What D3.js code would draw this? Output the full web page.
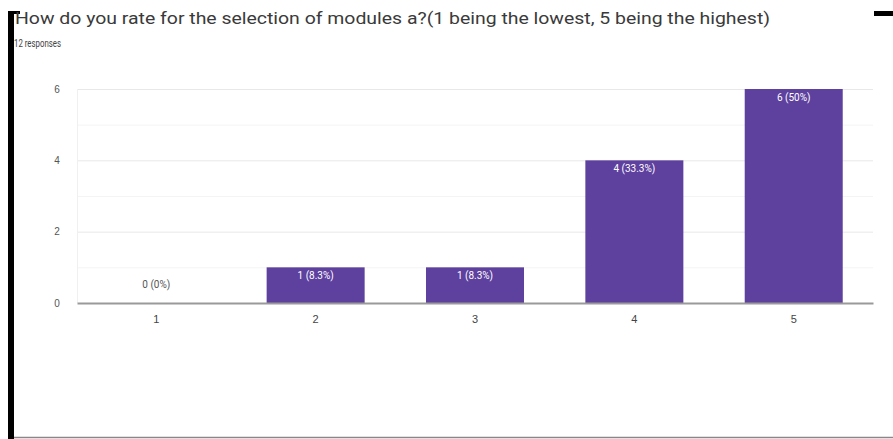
<!DOCTYPE html>
<html>
<head>
<meta charset="utf-8">
<script src="https://cdnjs.cloudflare.com/ajax/libs/d3/7.8.5/d3.min.js"></script>
<style>
body { margin: 0; background: #fff; }
svg { display: block; font-family: Roboto, "Liberation Sans", sans-serif; }
</style>
</head>
<body>
<script>
var title = "How do you rate for the selection of modules a?(1 being the lowest, 5 being the highest)";
var subtitle = "12 responses";
var categories = ["1", "2", "3", "4", "5"];
var counts = [0, 1, 1, 4, 6];
var percents = ["0%", "8.3%", "8.3%", "33.3%", "50%"];
var yTicks = [0, 2, 4, 6];

var W = 893, H = 439;
var margin = {top: 89, right: 20, bottom: 136, left: 77},
    width = 873 - margin.left,
    height = 303 - margin.top;

var svg = d3.select("body").append("svg")
    .attr("width", W)
    .attr("height", H);

// frame bits from the screenshot
svg.append("rect").attr("x", 8).attr("y", 11).attr("width", 6).attr("height", H - 11).attr("fill", "#000");
svg.append("rect").attr("x", 8).attr("y", 11).attr("width", 12).attr("height", 3).attr("fill", "#000");
svg.append("rect").attr("x", 874).attr("y", 11).attr("width", 19).attr("height", 5).attr("fill", "#000");
svg.append("line").attr("x1", 14).attr("x2", W).attr("y1", 437.5).attr("y2", 437.5)
    .attr("stroke", "#888").attr("stroke-width", 1.5);

svg.append("text")
    .attr("x", 15).attr("y", 24)
    .attr("font-family", "'Liberation Sans Narrow', Roboto, sans-serif")
    .attr("font-size", 16)
    .attr("fill", "#3a3a3a")
    .attr("textLength", 755)
    .attr("lengthAdjust", "spacingAndGlyphs")
    .text(title);

svg.append("text")
    .attr("x", 14).attr("y", 47)
    .attr("font-size", 10)
    .attr("fill", "#444")
    .attr("textLength", 47)
    .attr("lengthAdjust", "spacingAndGlyphs")
    .text(subtitle);

var g = svg.append("g")
    .attr("transform", "translate(" + margin.left + "," + margin.top + ")");

var x = d3.scaleBand()
    .domain(categories)
    .range([0, width])
    .paddingInner(0.385)
    .paddingOuter(0.19);

var y = d3.scaleLinear()
    .domain([0, 6])
    .range([height, 0]);

// gridlines, minor ones lighter
g.selectAll(".grid")
    .data(d3.range(1, 7))
    .enter().append("line")
    .attr("class", "grid")
    .attr("x1", 0).attr("x2", width)
    .attr("y1", function(d) { return y(d) + 0.5; })
    .attr("y2", function(d) { return y(d) + 0.5; })
    .attr("stroke", function(d) { return d % 2 == 0 ? "#e8e8e8" : "#f4f4f4"; });

g.append("line")
    .attr("x1", 0.5).attr("x2", 0.5)
    .attr("y1", 0).attr("y2", height)
    .attr("stroke", "#f0f0f0");

var yAxis = d3.axisLeft(y)
    .tickValues(yTicks)
    .tickFormat(d3.format("d"))
    .tickSize(0)
    .tickPadding(18);

g.append("g")
    .attr("class", "y axis")
    .call(yAxis)
    .call(function(s) { s.select(".domain").remove(); })
    .selectAll("text")
    .attr("font-size", 10)
    .attr("fill", "#555")
    .attr("text-anchor", "middle")
    .attr("x", -20);

var data = categories.map(function(c, i) { return {cat: c, n: counts[i], pct: percents[i]}; });

g.selectAll(".bar")
    .data(data)
    .enter().append("rect")
    .attr("class", "bar")
    .attr("x", function(d) { return x(d.cat); })
    .attr("y", function(d) { return y(d.n); })
    .attr("width", x.bandwidth())
    .attr("height", function(d) { return y(0) - y(d.n); })
    .attr("fill", "#5e409e");

g.selectAll(".lbl")
    .data(data)
    .enter().append("text")
    .attr("class", "lbl")
    .attr("x", function(d) { return x(d.cat) + x.bandwidth() / 2; })
    .attr("y", function(d) { return d.n > 0 ? y(d.n) + 12 : y(0) - 15; })
    .attr("text-anchor", "middle")
    .attr("font-size", 10)
    .attr("fill", function(d) { return d.n > 0 ? "#fff" : "#555"; })
    .text(function(d) { return d.n + " (" + d.pct + ")"; });

// baseline + x labels
var xAxis = d3.axisBottom(x)
    .tickSize(0)
    .tickPadding(12);

g.append("g")
    .attr("class", "x axis")
    .attr("transform", "translate(0," + height + ")")
    .call(xAxis)
    .call(function(s) {
        s.select(".domain").attr("stroke", "#9a9a9a").attr("stroke-width", 2);
    })
    .selectAll("text")
    .attr("font-size", 11)
    .attr("fill", "#444");
</script>
</body>
</html>
